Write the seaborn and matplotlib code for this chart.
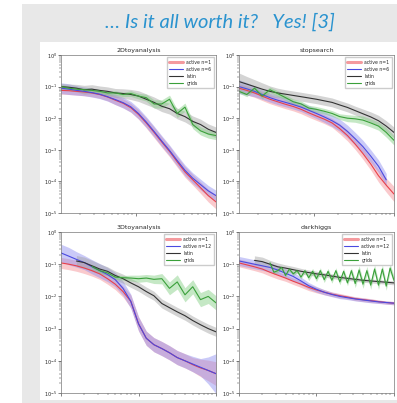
import numpy as np
import pandas as pd
import matplotlib
matplotlib.use("Agg")
import matplotlib.pyplot as plt
import seaborn as sns
from matplotlib.lines import Line2D
from matplotlib.patches import Rectangle

# ---- data (values are log10 of the metric) ----
panel_titles = ["2Dtoyanalysis", "stopsearch", "3Dtoyanalysis", "darkhiggs"]

x_top = [1.15, 1.44, 1.8, 2.24, 2.8, 3.5, 4.4, 5.5, 6.9, 8.6, 10.7,
         13.4, 16.8, 20.9, 26.2, 32.7, 40.9, 51.2, 64.0, 80.0, 100.0]
x_bot = [10, 12.6, 15.8, 20, 25.1, 31.6, 39.8, 50.1, 63.1, 79.4, 100,
         126, 158, 200, 251, 316, 398, 501, 631, 794, 1000]
x_bot_fine = [25.1, 28.2, 31.6, 35.5, 39.8, 44.7, 50.1, 56.2, 63.1, 70.8, 79.4,
              89.1, 100, 112, 126, 141, 158, 178, 200, 224, 251, 282, 316, 355,
              398, 447, 501, 562, 631, 708, 794, 891, 1000]

# 2Dtoyanalysis
p1_red = [-1.12, -1.13, -1.15, -1.17, -1.2, -1.25, -1.33, -1.43, -1.53, -1.67, -1.88,
          -2.15, -2.45, -2.75, -3.05, -3.38, -3.7, -3.95, -4.2, -4.45, -4.65]
p1_red_err = [.12, .12, .12, .12, .12, .12, .12, .14, .14, .14, .15, .16, .17, .17, .17, .17, .17, .17, .18, .2, .22]
p1_blue = [-1.05, -1.08, -1.12, -1.15, -1.19, -1.24, -1.32, -1.41, -1.51, -1.64, -1.85,
           -2.12, -2.42, -2.72, -3.02, -3.34, -3.65, -3.9, -4.1, -4.3, -4.45]
p1_blue_err = [.17, .17, .15, .14, .14, .14, .14, .16, .17, .17, .17, .17, .17, .17, .17, .17, .17, .17, .17, .17, .17]
p1_latin = [-1.0, -1.02, -1.05, -1.1, -1.08, -1.12, -1.15, -1.2, -1.22, -1.25, -1.3,
            -1.4, -1.5, -1.62, -1.7, -1.85, -1.95, -2.1, -2.2, -2.35, -2.45]
p1_latin_err = [.1, .1, .12, .14, .14, .14, .14, .14, .15, .16, .17, .17, .17, .17, .17, .17, .17, .17, .17, .17, .17]
p1_grid = [-1.0, -1.05, -1.08, -1.1, -1.12, -1.15, -1.2, -1.2, -1.25, -1.22, -1.3,
           -1.35, -1.55, -1.55, -1.4, -1.85, -1.65, -2.2, -2.4, -2.5, -2.55]
p1_grid_err = [.06, .06, .06, .06, .06, .06, .06, .07, .07, .09, .09, .11, .13, .13, .13, .13, .13, .13, .13, .13, .13]

# stopsearch
p2_red = [-1.05, -1.12, -1.2, -1.3, -1.4, -1.48, -1.56, -1.63, -1.72, -1.83, -1.93,
          -2.03, -2.15, -2.33, -2.55, -2.82, -3.12, -3.45, -3.82, -4.12, -4.4]
p2_red_err = [.14, .14, .14, .14, .14, .14, .14, .14, .14, .14, .14, .14, .14, .16, .17, .17, .18, .19, .2, .22, .24]
p2_blue = [-1.0, -1.07, -1.15, -1.25, -1.35, -1.43, -1.5, -1.57, -1.65, -1.75, -1.85,
           -1.96, -2.08, -2.22, -2.42, -2.65, -2.9, -3.2, -3.52, -3.95]
p2_blue_err = [.22, .2, .17, .15, .14, .14, .14, .14, .14, .15, .16, .17, .18, .19, .2, .2, .2, .2, .2, .2]
p2_latin = [-0.84, -0.92, -1.0, -1.08, -1.15, -1.2, -1.24, -1.28, -1.32, -1.36, -1.4,
            -1.45, -1.5, -1.58, -1.66, -1.76, -1.86, -1.96, -2.08, -2.25, -2.45]
p2_latin_err = [.27, .24, .22, .2, .17, .15, .14, .14, .14, .14, .14, .14, .14, .14, .14, .14, .15, .16, .17, .17, .17]
p2_grid = [-1.15, -1.25, -1.05, -1.3, -1.1, -1.22, -1.35, -1.48, -1.55, -1.68, -1.72,
           -1.78, -1.85, -1.95, -2.0, -2.02, -2.06, -2.15, -2.25, -2.45, -2.7]
p2_grid_err = [.06, .07, .07, .09, .09, .09, .09, .09, .09, .09, .09, .09, .09, .09, .11, .11, .13, .13, .13, .15, .15]

# 3Dtoyanalysis
p3_red = [-0.96, -1.0, -1.05, -1.12, -1.2, -1.3, -1.45, -1.62, -1.85, -2.15, -2.85,
          -3.3, -3.5, -3.62, -3.75, -3.9, -4.0, -4.12, -4.22, -4.3, -4.4]
p3_red_err = [.17, .17, .17, .17, .17, .17, .17, .17, .17, .2, .22, .22, .22, .22, .22, .22, .22, .22, .27, .32, .37]
p3_blue = [-0.65, -0.75, -0.85, -0.95, -1.08, -1.2, -1.32, -1.48, -1.75, -2.15, -2.85,
           -3.3, -3.5, -3.62, -3.75, -3.9, -4.0, -4.1, -4.2, -4.3, -4.4]
p3_blue_err = [.27, .27, .24, .22, .22, .22, .22, .22, .22, .22, .22, .22, .22, .22, .22, .22, .22, .24, .27, .42, .62]
p3_latin = [-0.9, -0.95, -1.05, -1.15, -1.22, -1.35, -1.45, -1.58, -1.7, -1.85, -1.98,
            -2.22, -2.35, -2.48, -2.6, -2.75, -2.88, -3.0, -3.1]
p3_latin_err = [.17, .17, .17, .16, .14, .14, .14, .14, .14, .14, .14, .14, .14, .14, .14, .14, .14, .14, .14]
p3_grid = [-1.07, -1.2, -1.27, -1.4, -1.42, -1.43, -1.45, -1.43, -1.47, -1.45, -1.75,
           -1.55, -1.95, -1.7, -2.1, -2.0, -2.2]
p3_grid_err = [.06, .06, .07, .07, .07, .09, .11, .11, .13, .16, .2, .22, .22, .22, .22, .22, .22]

# darkhiggs
p4_red = [-0.96, -1.02, -1.08, -1.15, -1.25, -1.34, -1.43, -1.53, -1.62, -1.72, -1.8,
          -1.87, -1.93, -1.98, -2.02, -2.07, -2.1, -2.13, -2.16, -2.19, -2.21]
p4_red_err = [.12, .12, .12, .12, .12, .12, .1, .1, .1, .1, .09, .08, .07, .07, .06, .06, .06, .06, .05, .05, .05]
p4_blue = [-0.9, -0.95, -1.0, -1.05, -1.1, -1.18, -1.28, -1.38, -1.52, -1.67, -1.78,
           -1.87, -1.94, -2.0, -2.04, -2.08, -2.11, -2.14, -2.17, -2.19, -2.21]
p4_blue_err = [.14, .14, .14, .14, .14, .14, .14, .14, .12, .1, .09, .08, .07, .07, .06, .06, .06, .06, .05, .05, .05]
p4_latin = [-0.88, -0.92, -1.0, -1.08, -1.12, -1.17, -1.22, -1.26, -1.3, -1.33, -1.37,
            -1.41, -1.44, -1.47, -1.5, -1.52, -1.54, -1.56, -1.58]
p4_latin_err = [.14, .14, .12, .12, .1, .1, .09, .08, .08, .07, .07, .07, .06, .06, .06, .06, .06, .06, .06]
p4_grid = [-0.96, -1.25, -1.2, -1.1, -1.35, -1.15, -1.3, -1.2, -1.4, -1.2, -1.42,
           -1.22, -1.45, -1.2, -1.48, -1.22, -1.5, -1.2, -1.55, -1.22, -1.58, -1.2,
           -1.6, -1.18, -1.62, -1.2, -1.65, -1.15, -1.65, -1.15, -1.68, -1.12, -1.5]
p4_grid_err = [.06] * 10 + [.09] * 12 + [.13] * 11

panels = [
    (x_top, [(x_top, p1_red, p1_red_err), (x_top, p1_blue, p1_blue_err),
             (x_top, p1_latin, p1_latin_err), (x_top, p1_grid, p1_grid_err)], "active n=6"),
    (x_top, [(x_top, p2_red, p2_red_err), (x_top[:20], p2_blue, p2_blue_err),
             (x_top, p2_latin, p2_latin_err), (x_top, p2_grid, p2_grid_err)], "active n=6"),
    (x_bot, [(x_bot, p3_red, p3_red_err), (x_bot, p3_blue, p3_blue_err),
             (x_bot[2:], p3_latin, p3_latin_err), (x_bot[4:], p3_grid, p3_grid_err)], "active n=12"),
    (x_bot, [(x_bot, p4_red, p4_red_err), (x_bot, p4_blue, p4_blue_err),
             (x_bot[2:], p4_latin, p4_latin_err), (x_bot_fine, p4_grid, p4_grid_err)], "active n=12"),
]

line_colors = ["#e8404a", "#4a4ae0", "#333333", "#3aa03a"]
band_colors = ["#f48a90", "#8a8af0", "#a0a0a0", "#80cc80"]

sns.set_theme(style="ticks")
plt.rcParams["font.family"] = ["DejaVu Sans"]

fig = plt.figure(figsize=(3.97, 4.03), dpi=100)
fig.patch.set_facecolor("white")
fig.add_artist(Rectangle((0.0554, 0.0), 0.95, 0.99, transform=fig.transFigure,
                         facecolor="#e8e8e8", edgecolor="none", zorder=0))
fig.add_artist(Rectangle((0.1008, 0.0074), 0.9, 0.888, transform=fig.transFigure,
                         facecolor="white", edgecolor="none", zorder=0))
fig.text(0.554, 0.945, "\u2026 Is it all worth it?   Yes! [3]", color="#2a93cf",
         fontsize=14.5, style="italic", family=["Lato", "DejaVu Sans"],
         ha="center", va="center")

axes_pos = [(0.1537, 0.4715, 0.3904, 0.392), (0.602, 0.4715, 0.3904, 0.392),
            (0.1537, 0.0248, 0.3904, 0.3995), (0.602, 0.0248, 0.3904, 0.3995)]

for pos, (xs, series, blue_label), title in zip(axes_pos, panels, panel_titles):
    ax = fig.add_axes(pos)
    for k, (sx, sy, se) in enumerate(series):
        sy = np.array(sy)
        se = np.array(se)
        ax.fill_between(sx, 10 ** (sy - se), 10 ** (sy + se), color=band_colors[k],
                        alpha=0.45, lw=0)
    for k, (sx, sy, se) in enumerate(series):
        df = pd.DataFrame({"x": sx, "y": 10 ** np.array(sy)})
        sns.lineplot(data=df, x="x", y="y", color=line_colors[k], estimator=None,
                     sort=False, lw=0.8, ax=ax)
    ax.set_xscale("log")
    ax.set_yscale("log")
    ax.set_xlim(xs[0], xs[-1])
    ax.set_ylim(1e-5, 1)
    ax.set_xlabel("")
    ax.set_ylabel("")
    ax.set_title(title, fontsize=4.5, pad=2)
    ax.tick_params(axis="both", which="major", labelsize=3.5, length=2, width=0.4, pad=1)
    ax.tick_params(axis="both", which="minor", length=1.2, width=0.3)
    ax.tick_params(axis="x", which="both", labelbottom=False)
    for sp in ax.spines.values():
        sp.set_linewidth(0.5)
        sp.set_color("#777777")
    handles = [Line2D([], [], color="#f49a9e", lw=2.2),
               Line2D([], [], color=line_colors[1], lw=0.8),
               Line2D([], [], color=line_colors[2], lw=0.8),
               Line2D([], [], color=line_colors[3], lw=0.8)]
    ax.legend(handles, ["active n=1", blue_label, "latin", "grids"], loc="upper right",
              fontsize=3.3, frameon=True, handlelength=3, borderpad=0.5,
              labelspacing=0.45, fancybox=False, edgecolor="#cccccc", framealpha=1)

fig.savefig("out.png", dpi=100)
